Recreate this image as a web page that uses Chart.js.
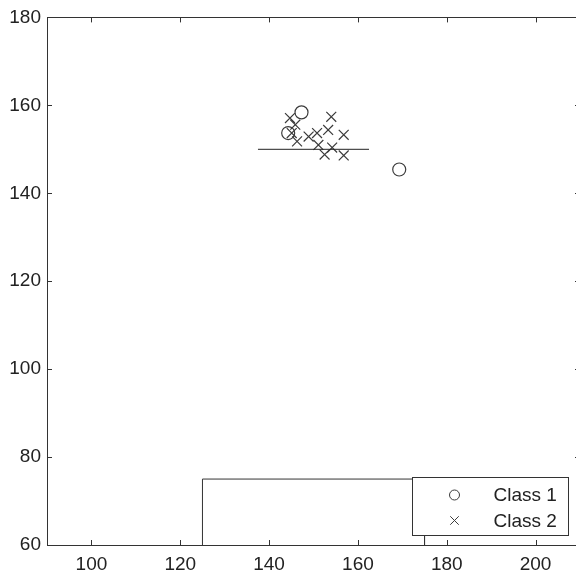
<!DOCTYPE html>
<html>
<head>
<meta charset="utf-8">
<script src="https://cdn.jsdelivr.net/npm/chart.js@4/dist/chart.umd.min.js"></script>
<style>
  html, body { margin: 0; padding: 0; background: #fff; overflow: hidden; }
  #wrap { width: 576px; height: 579px; overflow: hidden; }
</style>
</head>
<body>
<div id="wrap"><canvas id="scatter" width="592" height="579"></canvas></div>
<script>
  const xTicks = [100, 120, 140, 160, 180, 200];
  const yTicks = [60, 80, 100, 120, 140, 160, 180];

  const class1X = [147.3, 144.3, 169.3];
  const class1Y = [158.4, 153.7, 145.4];

  const class2X = [144.7, 154.0, 145.9, 145.1, 146.3, 148.9, 150.8, 153.3, 156.8, 151.1, 154.2, 152.5, 156.8];
  const class2Y = [157.1, 157.4, 155.6, 153.7, 151.8, 152.9, 153.7, 154.4, 153.3, 151.0, 150.4, 148.8, 148.6];

  // decision threshold segment and the lower region outline
  const boundaryX = [137.5, 162.5];
  const boundaryY = [150, 150];
  const regionX = [125, 125, 175, 175];
  const regionY = [60, 75, 75, 60];

  const legendNames = ['Class 1', 'Class 2'];

  const ink = '#333';
  const markInk = '#3c3c3c';
  const font = { family: "'Liberation Sans', Arial, sans-serif", size: 19 };

  const toPoints = (xs, ys) => xs.map((x, i) => ({ x, y: ys[i] }));

  // box frame with inward ticks on all four sides, plus the boxed legend
  const framePlugin = {
    id: 'frame',
    afterDraw(chart) {
      const { ctx, chartArea: a, scales } = chart;
      const tick = 5;
      ctx.save();
      ctx.strokeStyle = ink;
      ctx.lineWidth = 1;
      ctx.beginPath();
      xTicks.forEach((v) => {
        const px = Math.round(scales.x.getPixelForValue(v)) + 0.5;
        ctx.moveTo(px, a.bottom);
        ctx.lineTo(px, a.bottom - tick);
        ctx.moveTo(px, a.top);
        ctx.lineTo(px, a.top + tick);
      });
      yTicks.forEach((v) => {
        const py = Math.round(scales.y.getPixelForValue(v)) + 0.5;
        ctx.moveTo(a.left, py);
        ctx.lineTo(a.left + tick, py);
        ctx.moveTo(a.right, py);
        ctx.lineTo(a.right - tick, py);
      });
      ctx.stroke();
      ctx.strokeRect(Math.round(a.left) + 0.5, Math.round(a.top) + 0.5,
        Math.round(a.right - a.left), Math.round(a.bottom - a.top));

      // legend
      const w = 156;
      const h = 58;
      const bx = Math.round(a.right - 12 - w) + 0.5;
      const by = Math.round(a.bottom - 10 - h) + 0.5;
      ctx.fillStyle = '#fff';
      ctx.fillRect(bx, by, w, h);
      ctx.strokeStyle = ink;
      ctx.strokeRect(bx, by, w, h);
      const styles = [
        { pointStyle: 'circle', radius: 5, rotation: 0, borderWidth: 1 },
        { pointStyle: 'crossRot', radius: 6, rotation: 0, borderWidth: 1 }
      ];
      legendNames.forEach((name, i) => {
        const cy = by + 17.5 + i * 25.5;
        ctx.strokeStyle = markInk;
        ctx.lineWidth = 1;
        Chart.helpers.drawPoint(ctx, styles[i], bx + 42, cy);
        ctx.fillStyle = '#222';
        ctx.font = `${font.size}px ${font.family}`;
        ctx.textBaseline = 'middle';
        ctx.textAlign = 'left';
        ctx.fillText(name, bx + 81, cy + 1);
      });
      ctx.restore();
    }
  };

  // eslint-disable-next-line no-new
  new Chart(document.getElementById('scatter'), {
    type: 'scatter',
    data: {
      datasets: [{
        label: 'region',
        data: toPoints(regionX, regionY),
        showLine: true,
        borderColor: ink,
        borderWidth: 1,
        pointRadius: 0
      }, {
        label: 'boundary',
        data: toPoints(boundaryX, boundaryY),
        showLine: true,
        borderColor: '#222',
        borderWidth: 1,
        pointRadius: 0
      }, {
        label: legendNames[0],
        data: toPoints(class1X, class1Y),
        pointStyle: 'circle',
        pointRadius: 6.5,
        borderWidth: 1.2,
        borderColor: markInk,
        backgroundColor: 'rgba(0,0,0,0)'
      }, {
        label: legendNames[1],
        data: toPoints(class2X, class2Y),
        pointStyle: 'crossRot',
        pointRadius: 7,
        borderWidth: 1.2,
        borderColor: markInk,
        backgroundColor: 'rgba(0,0,0,0)'
      }]
    },
    options: {
      responsive: false,
      animation: false,
      devicePixelRatio: 1,
      layout: { padding: { top: 15, right: 12, left: 0, bottom: 0 } },
      plugins: {
        legend: { display: false },
        tooltip: { enabled: false }
      },
      scales: {
        x: {
          type: 'linear',
          min: 90,
          max: 210,
          afterBuildTicks: (scale) => { scale.ticks = xTicks.map((value) => ({ value })); },
          afterFit: (scale) => { scale.height = 34; },
          grid: { display: false, drawTicks: false },
          border: { display: false },
          ticks: { font, color: '#222', padding: 8, maxRotation: 0 }
        },
        y: {
          type: 'linear',
          min: 60,
          max: 180,
          afterBuildTicks: (scale) => { scale.ticks = yTicks.map((value) => ({ value })); },
          afterFit: (scale) => { scale.width = 47; },
          grid: { display: false, drawTicks: false },
          border: { display: false },
          ticks: { font, color: '#222', padding: 6 }
        }
      }
    },
    plugins: [framePlugin]
  });
</script>
</body>
</html>
